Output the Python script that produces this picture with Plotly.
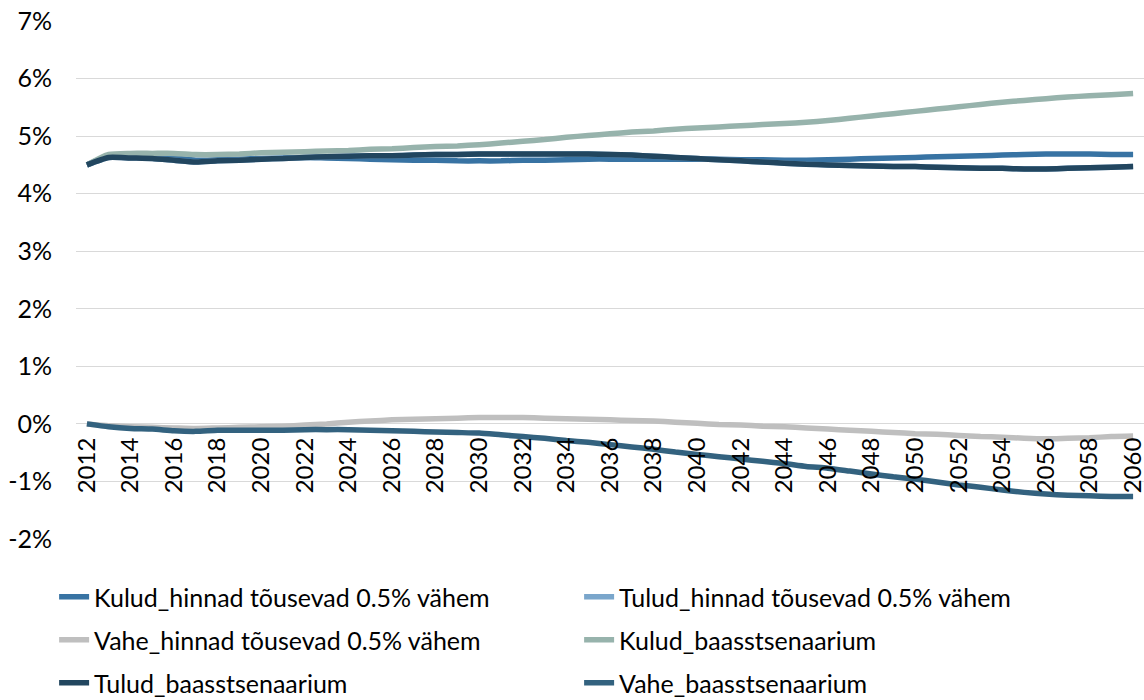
import plotly.graph_objects as go

years = list(range(2012, 2061))

kulud_hinnad = [4.50, 4.65, 4.66, 4.65, 4.62, 4.58, 4.59, 4.60, 4.61, 4.62,
                4.63, 4.62, 4.61, 4.60, 4.59, 4.58, 4.58, 4.57, 4.57, 4.57,
                4.58, 4.58, 4.59, 4.60, 4.60, 4.60, 4.60, 4.60, 4.60, 4.60,
                4.59, 4.59, 4.58, 4.58, 4.59, 4.60, 4.61, 4.62, 4.63, 4.64,
                4.65, 4.66, 4.67, 4.68, 4.69, 4.69, 4.69, 4.68, 4.68]

tulud_hinnad = [4.50, 4.63, 4.62, 4.61, 4.58, 4.55, 4.57, 4.58, 4.60, 4.61,
                4.63, 4.64, 4.65, 4.66, 4.66, 4.67, 4.68, 4.68, 4.69, 4.69,
                4.69, 4.69, 4.69, 4.69, 4.68, 4.67, 4.65, 4.63, 4.61, 4.59,
                4.57, 4.55, 4.53, 4.51, 4.50, 4.49, 4.48, 4.47, 4.47, 4.46,
                4.45, 4.44, 4.44, 4.43, 4.43, 4.44, 4.45, 4.46, 4.47]

vahe_hinnad = [0.00, -0.03, -0.05, -0.06, -0.07, -0.08, -0.07, -0.06, -0.05, -0.04,
               -0.02, 0.00, 0.03, 0.05, 0.07, 0.08, 0.09, 0.10, 0.11, 0.11,
               0.11, 0.10, 0.09, 0.08, 0.07, 0.06, 0.05, 0.03, 0.01, -0.01,
               -0.02, -0.04, -0.05, -0.07, -0.09, -0.11, -0.13, -0.15, -0.17, -0.18,
               -0.20, -0.22, -0.23, -0.25, -0.26, -0.25, -0.24, -0.22, -0.21]

kulud_baas = [4.50, 4.68, 4.70, 4.70, 4.70, 4.68, 4.68, 4.69, 4.71, 4.72,
              4.73, 4.74, 4.75, 4.77, 4.78, 4.80, 4.82, 4.83, 4.85, 4.88,
              4.91, 4.94, 4.98, 5.01, 5.04, 5.07, 5.09, 5.12, 5.14, 5.16,
              5.18, 5.20, 5.22, 5.24, 5.27, 5.31, 5.35, 5.39, 5.43, 5.47,
              5.51, 5.55, 5.59, 5.62, 5.65, 5.68, 5.70, 5.72, 5.74]

tulud_baas = [4.50, 4.63, 4.62, 4.61, 4.58, 4.55, 4.57, 4.58, 4.60, 4.61,
              4.63, 4.64, 4.65, 4.66, 4.66, 4.67, 4.68, 4.68, 4.69, 4.69,
              4.69, 4.69, 4.69, 4.69, 4.68, 4.67, 4.65, 4.63, 4.61, 4.59,
              4.57, 4.55, 4.53, 4.51, 4.50, 4.49, 4.48, 4.47, 4.47, 4.46,
              4.45, 4.44, 4.44, 4.43, 4.43, 4.44, 4.45, 4.46, 4.47]

vahe_baas = [0.00, -0.05, -0.08, -0.09, -0.12, -0.13, -0.11, -0.11, -0.11, -0.11,
             -0.10, -0.10, -0.10, -0.11, -0.12, -0.13, -0.14, -0.15, -0.16, -0.19,
             -0.22, -0.25, -0.29, -0.32, -0.36, -0.40, -0.44, -0.49, -0.53, -0.57,
             -0.61, -0.65, -0.69, -0.74, -0.77, -0.82, -0.87, -0.92, -0.96, -1.01,
             -1.06, -1.10, -1.15, -1.19, -1.22, -1.24, -1.25, -1.26, -1.26]

series = [
    ("Kulud_hinnad tõusevad 0.5% vähem", kulud_hinnad, "#3873A3", "legend"),
    ("Tulud_hinnad tõusevad 0.5% vähem", tulud_hinnad, "#7AA6CB", "legend"),
    ("Vahe_hinnad tõusevad 0.5% vähem", vahe_hinnad, "#BFBFBF", "legend2"),
    ("Kulud_baasstsenaarium", kulud_baas, "#97B3AC", "legend2"),
    ("Tulud_baasstsenaarium", tulud_baas, "#22465F", "legend3"),
    ("Vahe_baasstsenaarium", vahe_baas, "#33627F", "legend3"),
]

tick_years = list(range(2012, 2061, 2))
tick_text = [str(y) for y in tick_years]
y_ticks = [-2, -1, 0, 1, 2, 3, 4, 5, 6, 7]
y_text = [f"{v}%" for v in y_ticks]

FONT = "Lato"
FS = 25

fig = go.Figure()
for name, vals, col, leg in series:
    fig.add_trace(go.Scatter(
        x=years, y=vals, name=name, mode="lines", legend=leg,
        line=dict(color=col, width=5.5, shape="spline", smoothing=0.6),
    ))

def leg_cfg(ypos):
    return dict(
        orientation="h", x=-0.0205, y=ypos, xanchor="left", yanchor="middle",
        xref="paper", yref="paper",
        entrywidth=480, entrywidthmode="pixels",
        font=dict(family=FONT, size=FS, color="#000000"),
        itemclick=False, traceorder="normal", bgcolor="rgba(0,0,0,0)",
    )

fig.update_layout(
    width=1144, height=700,
    margin=dict(l=76, r=0, t=21, b=161, autoexpand=False),
    paper_bgcolor="white", plot_bgcolor="white",
    font=dict(family=FONT, size=FS, color="#000000"),
    showlegend=True,
    legend=leg_cfg(-0.112),
    legend2=leg_cfg(-0.195),
    legend3=leg_cfg(-0.278),
    xaxis=dict(
        range=[2011.5, 2060.5],
        tickvals=tick_years, ticktext=tick_text, tickangle=-90,
        anchor="free", position=2/9,
        showgrid=False, zeroline=False, showline=False, ticks="",
        ticklabeloverflow="allow", ticklabelstandoff=8,
        tickfont=dict(family=FONT, size=24, color="#000000"),
    ),
    yaxis=dict(
        range=[-2, 7], tickvals=y_ticks, ticktext=y_text,
        showgrid=True, gridcolor="#D9D9D9", gridwidth=1.3,
        zeroline=False, showline=False, ticks="",
        ticklabelstandoff=23,
        tickfont=dict(family=FONT, size=FS, color="#000000"),
    ),
)

fig.write_html(
    "out.html",
    config={"displayModeBar": False},
    post_script="document.body.style.margin='0';document.body.style.overflow='hidden';",
)
